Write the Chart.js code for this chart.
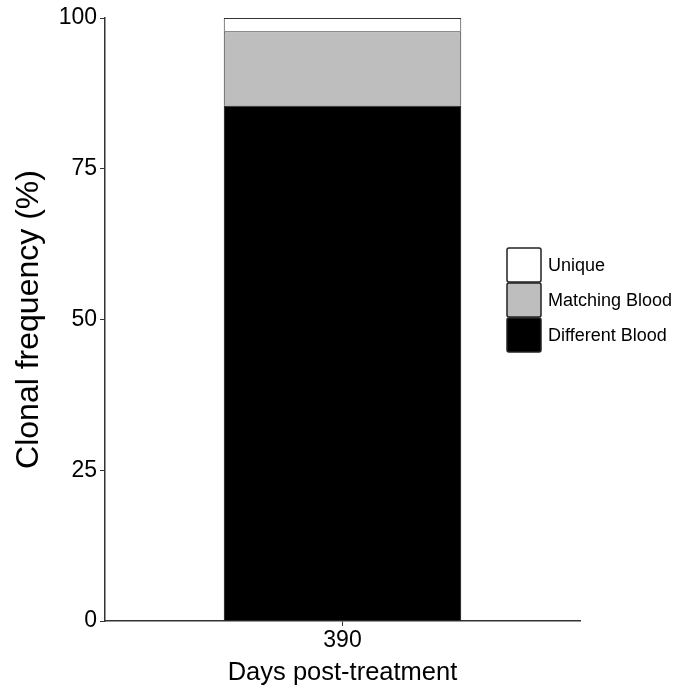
<!DOCTYPE html>
<html>
<head>
<meta charset="utf-8">
<script src="https://cdn.jsdelivr.net/npm/chart.js@4"></script>
<style>
  html, body { margin: 0; padding: 0; background: #fff; }
  #wrap { width: 681px; height: 688px; }
</style>
</head>
<body>
<div id="wrap"><canvas id="myChart" width="681" height="688"></canvas></div>
<script>
// data
const days = ['390']
const differentBlood = [85.5]
const matchingBlood = [12.3]
const unique = [2.2]
const yTicks = [0, 25, 50, 75, 100]

const FONT = "'Liberation Sans', Arial, sans-serif"

// legend drawn as stacked boxes on the right (top item = top of stack)
const boxLegend = {
  id: 'boxLegend',
  afterDraw(chart) {
    const ctx = chart.ctx
    const sets = chart.data.datasets.slice().reverse()
    const x = 507, size = 34
    let y = 248
    ctx.save()
    sets.forEach(ds => {
      ctx.beginPath()
      ctx.roundRect(x, y, size, size, 2)
      ctx.fillStyle = ds.backgroundColor
      ctx.fill()
      ctx.lineWidth = 1.5
      ctx.strokeStyle = '#222'
      ctx.stroke()
      ctx.fillStyle = '#000'
      ctx.font = '18px ' + FONT
      ctx.textBaseline = 'middle'
      ctx.fillText(ds.label, x + size + 7, y + size / 2 + 1)
      y += size + 1
    })
    ctx.restore()
  }
}

const ctx = document.getElementById('myChart').getContext('2d')
const myChart = new Chart(ctx, {
  type: 'bar',
  data: {
    labels: days,
    datasets: [
      { label: 'Different Blood', data: differentBlood, backgroundColor: '#000000', borderColor: '#000000', borderWidth: 1 },
      { label: 'Matching Blood', data: matchingBlood, backgroundColor: '#bebebe', borderColor: '#333333', borderWidth: 1 },
      { label: 'Unique', data: unique, backgroundColor: '#ffffff', borderColor: '#333333', borderWidth: 1 }
    ]
  },
  options: {
    responsive: false,
    animation: false,
    layout: { padding: { top: 18, right: 101, left: 0, bottom: 0 } },
    datasets: { bar: { barPercentage: 0.5, categoryPercentage: 1 } },
    plugins: { legend: { display: false }, tooltip: { enabled: false } },
    scales: {
      x: {
        stacked: true,
        grid: { display: true, offset: false, drawOnChartArea: false, drawTicks: true, tickLength: 5, color: '#333' },
        border: { display: true, color: '#333', width: 1.5 },
        ticks: { color: '#000', font: { family: FONT, size: 23 }, padding: 1 },
        title: { display: true, text: 'Days post-treatment', color: '#000', font: { family: FONT, size: 25.5 }, padding: { top: 5, bottom: 0 } },
        afterFit: s => { s.height = 67 }
      },
      y: {
        stacked: true,
        min: 0,
        max: 100,
        afterBuildTicks: s => { s.ticks = yTicks.map(v => ({ value: v })) },
        grid: { display: true, drawOnChartArea: false, drawTicks: true, tickLength: 5, color: '#333' },
        border: { display: true, color: '#333', width: 1.5 },
        ticks: { color: '#000', font: { family: FONT, size: 23 }, padding: 3 },
        title: { display: true, text: 'Clonal frequency (%)', color: '#000', font: { family: FONT, size: 32 }, padding: { top: 10, bottom: 0 } },
        afterFit: s => { s.width = 105 }
      }
    }
  },
  plugins: [boxLegend]
})
</script>
</body>
</html>
